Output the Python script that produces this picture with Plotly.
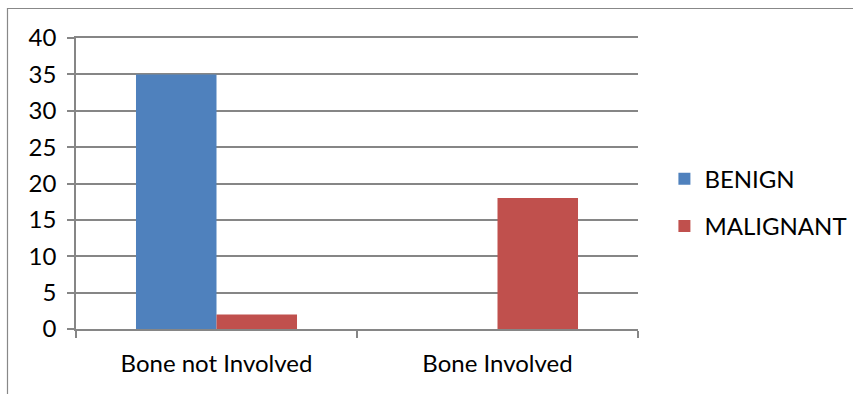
import plotly.graph_objects as go

categories = ["Bone not Involved", "Bone Involved"]
benign = [35, 0]
malignant = [2, 18]
y_ticks = [0, 5, 10, 15, 20, 25, 30, 35, 40]

FONT = "Lato"
GRID = "#868686"

fig = go.Figure()
fig.add_trace(go.Bar(name="BENIGN", x=categories, y=benign,
                     marker=dict(color="#4F81BD", line=dict(width=0)),
                     legendgroup="a"))
fig.add_trace(go.Bar(name="MALIGNANT", x=categories, y=malignant,
                     marker=dict(color="#C0504D", line=dict(width=0)),
                     legendgroup="b"))

fig.update_layout(
    width=853, height=394,
    margin=dict(l=76, r=215, t=38, b=65, autoexpand=False),
    paper_bgcolor="white", plot_bgcolor="white",
    barmode="group", bargap=0.427, bargroupgap=0,
    font=dict(family=FONT, size=24, color="black"),
    legend=dict(x=1.047, y=0.434, xanchor="left", yanchor="middle",
                font=dict(family=FONT, size=24, color="black"),
                traceorder="grouped", tracegroupgap=13,
                bgcolor="rgba(0,0,0,0)"),
    xaxis=dict(showgrid=False, showline=True, mirror=True, linecolor=GRID,
               linewidth=1.5, ticks="outside", tickson="boundaries", ticklen=7,
               tickcolor=GRID, tickwidth=1.5, ticklabelstandoff=12),
    yaxis=dict(range=[0, 40], tickvals=y_ticks, showgrid=True,
               gridcolor=GRID, gridwidth=1.5, showline=True,
               linecolor=GRID, linewidth=1.5, ticks="outside", ticklen=7,
               tickcolor=GRID, tickwidth=1.5, zeroline=False,
               ticklabelstandoff=6),
    shapes=[dict(type="rect", xref="paper", yref="paper",
                 x0=-0.1219, x1=1.4, y0=-0.3, y1=1.1014,
                 line=dict(color="#888888", width=1.2),
                 fillcolor="rgba(0,0,0,0)", layer="below")],
)

fig.write_html("out.html")
